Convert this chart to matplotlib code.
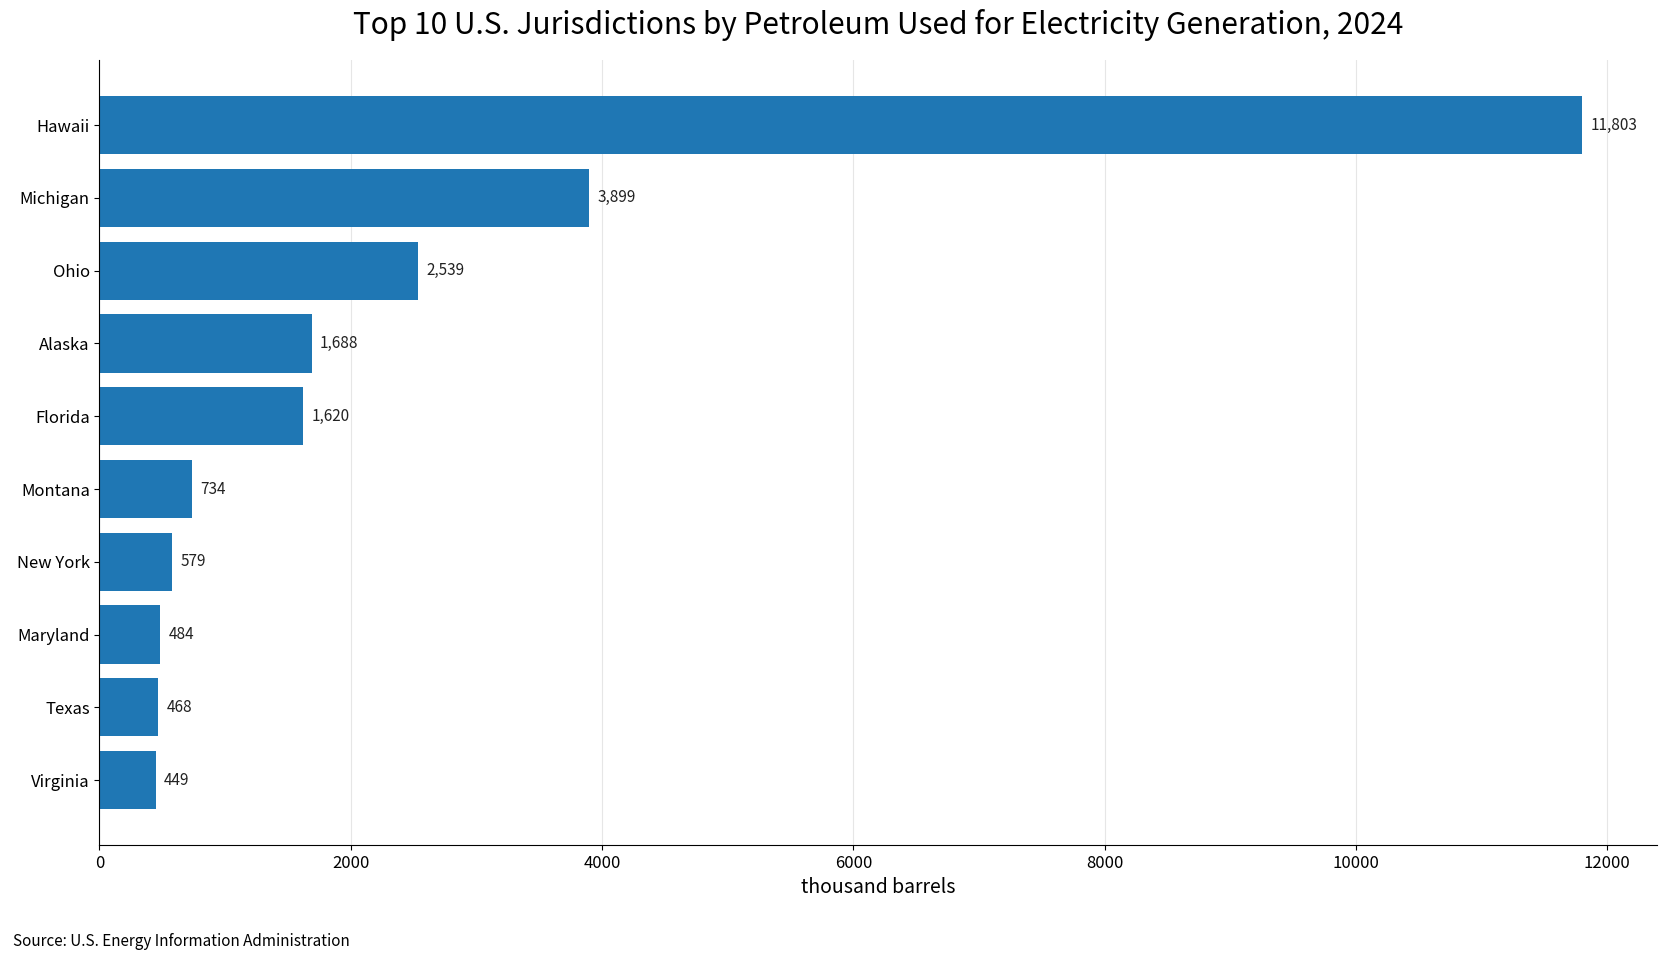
import matplotlib
matplotlib.use("Agg")
import matplotlib.pyplot as plt

plt.rcParams['font.family'] = ['Noto Sans CJK KR', 'DejaVu Sans']

states = ["Hawaii", "Michigan", "Ohio", "Alaska", "Florida", "Montana",
          "New York", "Maryland", "Texas", "Virginia"]
values = [11803, 3899, 2539, 1688, 1620, 734, 579, 484, 468, 449]

fig = plt.figure(figsize=(16.69, 9.59), dpi=100)
ax = fig.add_axes([0.0596, 0.119, 0.933, 0.818])

bars = ax.barh(states, values, height=0.8, color="#1f77b4", zorder=2)
ax.invert_yaxis()
ax.set_xlim(0, max(values) * 1.05)

ax.bar_label(bars, labels=[f"{v:,}" for v in values], padding=6, fontsize=11, color="#222222")

ax.grid(axis="x", color="#e6e6e6", linewidth=0.8, zorder=0)
ax.set_axisbelow(True)
for s in ["top", "right"]:
    ax.spines[s].set_visible(False)
ax.tick_params(axis="both", labelsize=12)
ax.set_xlabel("thousand barrels", fontsize=14)

ax.set_title("Top 10 U.S. Jurisdictions by Petroleum Used for Electricity Generation, 2024",
             fontsize=21.5, pad=19)
fig.text(0.008, 0.018, "Source: U.S. Energy Information Administration", fontsize=11,
         va="center", ha="left")

fig.savefig("out.png", dpi=100)
